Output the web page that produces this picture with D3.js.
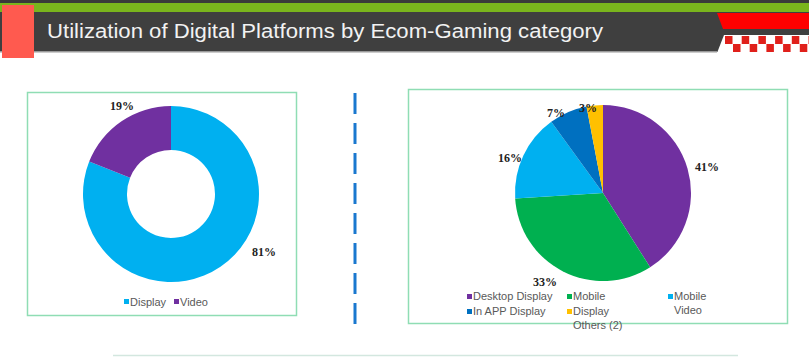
<!DOCTYPE html>
<html><head><meta charset="utf-8">
<script src="https://cdn.jsdelivr.net/npm/d3@7"></script>
<style>body{margin:0;background:#fff}svg{display:block}</style>
</head><body>
<script>
const title = "Utilization of Digital Platforms by Ecom-Gaming category";
const donutCategories = ["Display", "Video"];
const donutValues = [81, 19];
const donutColors = ["#00B0F0", "#7030A0"];
const pieCategories = ["Desktop Display", "Mobile", "Mobile Video", "In APP Display", "Display Others (2)"];
const pieValues = [41, 33, 16, 7, 3];
const pieColors = ["#7030A0", "#00B050", "#00B0F0", "#0070C0", "#FFC000"];

const W = 809, H = 359;
const svg = d3.select("body").append("svg").attr("width", W).attr("height", H);

// header
svg.append("rect").attr("x", 0).attr("y", 0).attr("width", W).attr("height", 3).attr("fill", "#3a3a3a");
svg.append("rect").attr("x", 0).attr("y", 3).attr("width", W).attr("height", 9).attr("fill", "#7AB51D");
svg.append("rect").attr("x", 0).attr("y", 12).attr("width", W).attr("height", 40).attr("fill", "#3F3F3F");
svg.append("rect").attr("x", 0).attr("y", 51).attr("width", 717).attr("height", 1.5).attr("fill", "#9a9a9a");
// right decoration
svg.append("path").attr("d", "M717,13 L809,13 L809,29 L723,29 Z").attr("fill", "#FF0000");
svg.append("path").attr("d", "M724,35 L809,35 L809,53 L717,53 Z").attr("fill", "#ffffff");
const chk = svg.append("g");
for (let i = 0; i < 6; i++) {
  chk.append("rect").attr("x", 725 + i * 16.7).attr("y", 36).attr("width", 7.5).attr("height", 8).attr("fill", "#E0201B");
  chk.append("rect").attr("x", 733 + i * 16.7).attr("y", 44).attr("width", 7.5).attr("height", 8).attr("fill", "#E0201B");
}
// left red tab
svg.append("rect").attr("x", 2).attr("y", 5).attr("width", 32).attr("height", 53).attr("fill", "#FF5A4F");
svg.append("text").attr("x", 47).attr("y", 38).attr("fill", "#f2f2f2")
  .attr("font-family", "Liberation Sans, Arial, sans-serif").attr("font-size", 20)
  .attr("textLength", 556).attr("lengthAdjust", "spacingAndGlyphs")
  .text(title);

// boxes
svg.append("rect").attr("x", 27.5).attr("y", 92.5).attr("width", 269).attr("height", 223)
  .attr("fill", "none").attr("stroke", "#8FDDB4").attr("stroke-width", 1.5);
svg.append("rect").attr("x", 408.5).attr("y", 89.5).attr("width", 379).attr("height", 234)
  .attr("fill", "none").attr("stroke", "#8FDDB4").attr("stroke-width", 1.5);

// divider
svg.append("line").attr("x1", 355).attr("x2", 355).attr("y1", 93).attr("y2", 325)
  .attr("stroke", "#1A78CF").attr("stroke-width", 3).attr("stroke-dasharray", "21,9");

// bottom line
svg.append("line").attr("x1", 113).attr("x2", 738).attr("y1", 355.5).attr("y2", 355.5)
  .attr("stroke", "#D3E7DF").attr("stroke-width", 1.5);

const labelFont = "Liberation Serif, Times New Roman, serif";
const legFont = "Liberation Sans, Arial, sans-serif";

// donut
const pie = d3.pie().sort(null).value(d => d);
const dArcs = pie(donutValues);
const dArc = d3.arc().innerRadius(44).outerRadius(88);
const dg = svg.append("g").attr("transform", "translate(171,194)");
dg.selectAll("path").data(dArcs).join("path").attr("d", dArc).attr("fill", (d, i) => donutColors[i]);
const dLabelPos = [[93, 62], [-49, -84]];
dg.selectAll("text").data(dArcs).join("text")
  .attr("x", (d, i) => dLabelPos[i][0]).attr("y", (d, i) => dLabelPos[i][1])
  .attr("text-anchor", "middle").attr("font-family", labelFont).attr("font-weight", "bold")
  .attr("font-size", 12).attr("fill", "#222").text(d => Math.round(d.data) + "%");

const dLeg = svg.append("g");
const dLegX = [124, 174];
donutCategories.forEach((c, i) => {
  dLeg.append("rect").attr("x", dLegX[i]).attr("y", 299).attr("width", 5).attr("height", 5).attr("fill", donutColors[i]);
  dLeg.append("text").attr("x", dLegX[i] + 6).attr("y", 305.5).attr("font-family", legFont)
    .attr("font-size", 11).attr("fill", "#595959").text(c);
});

// pie
const pArcs = pie(pieValues);
const pArc = d3.arc().innerRadius(0).outerRadius(88);
const pg = svg.append("g").attr("transform", "translate(603,193)");
pg.selectAll("path").data(pArcs).join("path").attr("d", pArc).attr("fill", (d, i) => pieColors[i]);
const pLabelPos = [[104, -22], [-58, 93], [-93, -31], [-47, -76], [-15, -81]];
pg.selectAll("text").data(pArcs).join("text")
  .attr("x", (d, i) => pLabelPos[i][0]).attr("y", (d, i) => pLabelPos[i][1])
  .attr("text-anchor", "middle").attr("font-family", labelFont).attr("font-weight", "bold")
  .attr("font-size", 12).attr("fill", "#222").text(d => Math.round(d.data) + "%");

const pLeg = svg.append("g");
const pLegLayout = [
  {x: 467, y: 296, lines: ["Desktop Display"]},
  {x: 567, y: 296, lines: ["Mobile"]},
  {x: 668, y: 296, lines: ["Mobile", "Video"]},
  {x: 467, y: 311, lines: ["In APP Display"]},
  {x: 567, y: 311, lines: ["Display", "Others (2)"]}
];
pieCategories.forEach((c, i) => {
  const L = pLegLayout[i];
  pLeg.append("rect").attr("x", L.x).attr("y", L.y - 2).attr("width", 5).attr("height", 5).attr("fill", pieColors[i]);
  L.lines.forEach((t, j) => {
    pLeg.append("text").attr("x", L.x + 6).attr("y", L.y + 4 + j * 14).attr("font-family", legFont)
      .attr("font-size", 11).attr("fill", "#595959").text(t);
  });
});
</script>
</body></html>
